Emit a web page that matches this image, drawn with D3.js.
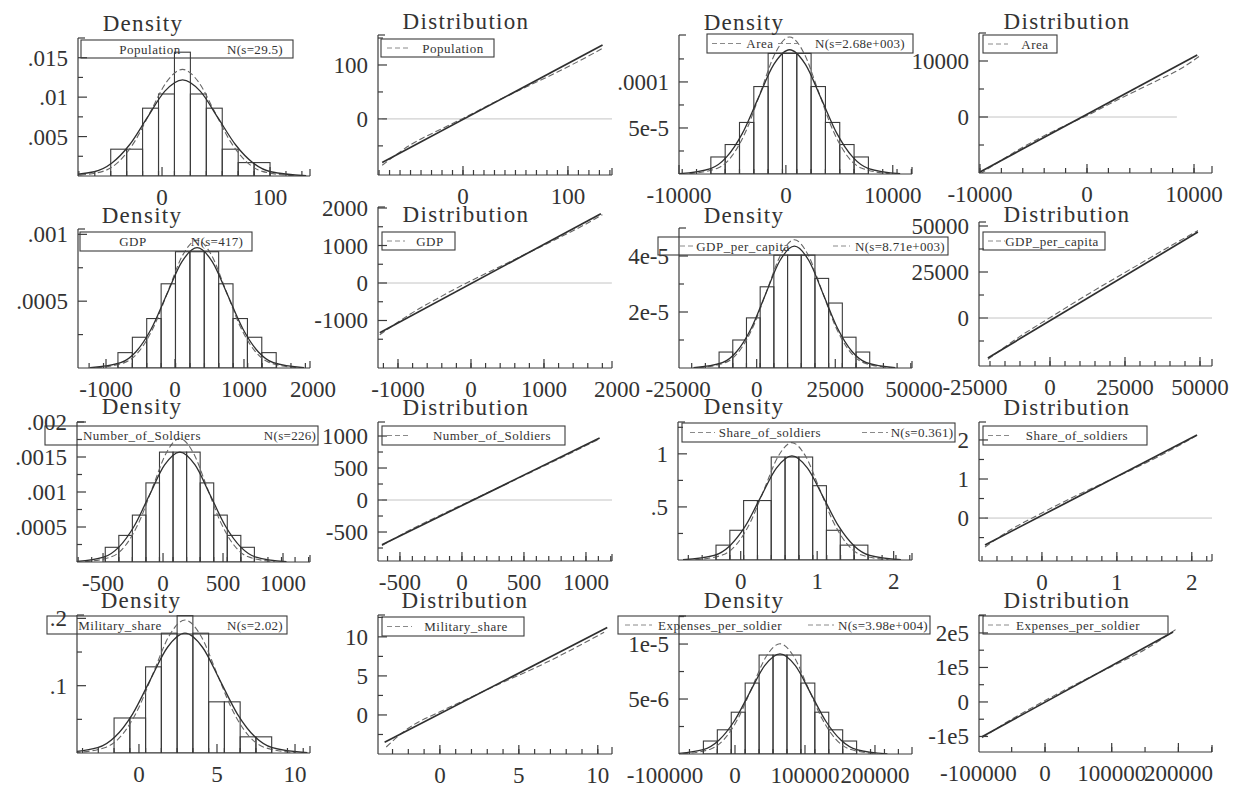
<!DOCTYPE html>
<html>
<head>
<meta charset="utf-8">
<script src="https://cdn.jsdelivr.net/npm/d3@7"></script>
<style>
  body { margin: 0; background: #fff; }
  text { font-family: "Liberation Serif", "Times New Roman", serif; fill: #333; }
</style>
</head>
<body>
<svg id="chart" width="1253" height="788"></svg>
<script>
// ---- variable names and legend labels ----
var varNames = ['Population', 'Area', 'GDP', 'GDP_per_capita', 'Number_of_Soldiers', 'Share_of_soldiers', 'Military_share', 'Expenses_per_soldier']
var sdLabels = ['N(s=29.5)', 'N(s=2.68e+003)', 'N(s=417)', 'N(s=8.71e+003)', 'N(s=226)', 'N(s=0.361)', 'N(s=2.02)', 'N(s=3.98e+004)']

// ---- Population ----
var popBinEdges = [-47.5, -32.75, -18, -3.25, 11.5, 26.25, 41, 55.75, 70.5, 85.25, 100]
var popBinHeights = [0.0034, 0.0034, 0.0086, 0.0104, 0.0157, 0.0104, 0.0086, 0.0034, 0.0017, 0.0017]
var popDashX = [-84.25, -54.75, -40, -25.25, -10.5, 4.25, 19, 33.75, 48.5, 63.25, 78, 92.75, 122.25]
var popDashY = [0.00003, 0.00059, 0.00183, 0.00439, 0.0082, 0.01193, 0.01352, 0.01193, 0.0082, 0.00439, 0.00183, 0.00059, 0.00003]
var popSolidX = [-95.45, -62.75, -46.4, -30.05, -13.7, 2.65, 19, 35.35, 51.7, 68.05, 84.4, 100.75, 133.45]
var popSolidY = [0.00003, 0.00054, 0.00165, 0.00396, 0.0074, 0.01077, 0.0122, 0.01077, 0.0074, 0.00396, 0.00165, 0.00054, 0.00003]
var popQqSolidX = [-77, 133]
var popQqSolidY = [-81, 137]
var popQqDashX = [-77, -50, -20, 0, 30, 60, 90, 120, 133]
var popQqDashY = [-86, -48, -18, 1, 31, 59, 87, 117, 131]

// ---- Area ----
var areaBinEdges = [-7020, -5680, -4340, -3000, -1660, -320, 1020, 2360, 3700, 5040, 6380, 7720]
var areaBinHeights = [1.85e-5, 3.2e-5, 5.6e-5, 9.5e-5, 1.31e-4, 1.31e-4, 1.31e-4, 9.5e-5, 5.6e-5, 3.2e-5, 1.85e-5]
var areaDashX = [-9030, -6350, -5010, -3670, -2330, -990, 350, 1690, 3030, 4370, 5710, 7050, 9730]
var areaDashY = [3.3e-7, 6.54e-6, 2.015e-5, 4.835e-5, 9.03e-5, 1.314e-4, 1.489e-4, 1.314e-4, 9.03e-5, 4.835e-5, 2.015e-5, 6.54e-6, 3.3e-7]
var areaSolidX = [-9993, -7038, -5560, -4083, -2605, -1128, 350, 1828, 3305, 4783, 6260, 7738, 10693]
var areaSolidY = [3.0e-7, 5.93e-6, 1.827e-5, 4.383e-5, 8.19e-5, 1.191e-4, 1.35e-4, 1.191e-4, 8.19e-5, 4.383e-5, 1.827e-5, 5.93e-6, 3.0e-7]
var areaQqSolidX = [-10000, 10300]
var areaQqSolidY = [-9800, 11070]
var areaQqDashX = [-10000, -6000, -3000, 0, 3000, 6000, 9000, 10600]
var areaQqDashY = [-10200, -5400, -2400, 250, 3200, 6000, 8900, 11000]

// ---- GDP ----
var gdpBinEdges = [-827, -618, -410, -201, 7, 216, 424, 633, 841, 1050, 1258, 1467]
var gdpBinHeights = [1.15e-4, 2.3e-4, 3.7e-4, 6.3e-4, 8.7e-4, 8.7e-4, 8.7e-4, 6.3e-4, 3.7e-4, 2.3e-4, 1.15e-4]
var gdpDashX = [-1140, -723, -514, -306, -97, 112, 320, 529, 737, 946, 1154, 1363, 1780]
var gdpDashY = [2.1e-6, 4.2e-5, 1.295e-4, 3.107e-4, 5.804e-4, 8.446e-4, 9.57e-4, 8.446e-4, 5.804e-4, 3.107e-4, 1.295e-4, 4.2e-5, 2.1e-6]
var gdpSolidX = [-1231, -788, -566, -345, -123, 99, 320, 542, 763, 985, 1206, 1428, 1871]
var gdpSolidY = [2.0e-6, 3.95e-5, 1.218e-4, 2.922e-4, 5.459e-4, 7.943e-4, 9.0e-4, 7.943e-4, 5.459e-4, 2.922e-4, 1.218e-4, 3.95e-5, 2.0e-6]
var gdpQqSolidX = [-1250, 1780]
var gdpQqSolidY = [-1330, 1850]
var gdpQqDashX = [-1250, -800, -400, 0, 400, 800, 1200, 1600, 1800]
var gdpQqDashY = [-1380, -790, -350, 60, 440, 820, 1200, 1600, 1820]

// ---- GDP_per_capita ----
var gdppcBinEdges = [-11953, -7598, -3243, 1113, 5468, 9823, 14178, 18533, 22888, 27243, 31598, 35953]
var gdppcBinHeights = [5.7e-6, 1.0e-5, 1.79e-5, 2.9e-5, 4.03e-5, 4.03e-5, 4.03e-5, 3.2e-5, 2.32e-5, 1.1e-5, 5.7e-6]
var gdppcDashX = [-18485, -9775, -5420, -1065, 3290, 7645, 12000, 16355, 20710, 25065, 29420, 33775, 42485]
var gdppcDashY = [1.0e-7, 2.01e-6, 6.2e-6, 1.487e-5, 2.778e-5, 4.042e-5, 4.58e-5, 4.042e-5, 2.778e-5, 1.487e-5, 6.2e-6, 2.01e-6, 1.0e-7]
var gdppcSolidX = [-20095, -10925, -6340, -1755, 2830, 7415, 12000, 16585, 21170, 25755, 30340, 34925, 44095]
var gdppcSolidY = [1.0e-7, 1.91e-6, 5.89e-6, 1.412e-5, 2.638e-5, 3.839e-5, 4.35e-5, 3.839e-5, 2.638e-5, 1.412e-5, 5.89e-6, 1.91e-6, 1.0e-7]
var gdppcQqSolidX = [-20700, 49300]
var gdppcQqSolidY = [-21700, 46700]
var gdppcQqDashX = [-20700, -10000, 0, 10000, 20000, 30000, 40000, 49300]
var gdppcQqDashY = [-22500, -10000, 200, 10300, 20000, 29500, 39000, 47500]

// ---- Number_of_Soldiers ----
var soldBinEdges = [-481.5, -368.5, -255.5, -142.5, -29.5, 83.5, 196.5, 309.5, 422.5, 535.5, 648.5, 761.5]
var soldBinHeights = [2.1e-4, 3.8e-4, 6.7e-4, 1.13e-3, 1.57e-3, 1.57e-3, 1.57e-3, 1.13e-3, 6.7e-4, 3.8e-4, 2.1e-4]
var soldDashX = [-651, -425, -312, -199, -86, 27, 140, 253, 366, 479, 592, 705, 931]
var soldDashY = [3.9e-6, 7.75e-5, 2.388e-4, 5.731e-4, 1.0705e-3, 1.5576e-3, 1.765e-3, 1.5576e-3, 1.0705e-3, 5.731e-4, 2.388e-4, 7.75e-5, 3.9e-6]
var soldSolidX = [-749, -495, -368, -241, -114, 13, 140, 267, 394, 521, 648, 775, 1029]
var soldSolidY = [3.5e-6, 6.9e-5, 2.126e-4, 5.101e-4, 9.528e-4, 1.3864e-3, 1.571e-3, 1.3864e-3, 9.528e-4, 5.101e-4, 2.126e-4, 6.9e-5, 3.5e-6]
var soldQqSolidX = [-645, 1110]
var soldQqSolidY = [-700, 970]
var soldQqDashX = [-645, -400, -200, 0, 200, 400, 600, 800, 1000, 1110]
var soldQqDashY = [-712, -450, -262, -75, 108, 290, 475, 660, 850, 955]

// ---- Share_of_soldiers ----
var shareBinEdges = [-0.323, -0.142, 0.038, 0.219, 0.399, 0.58, 0.76, 0.941, 1.121, 1.302, 1.482, 1.663]
var shareBinHeights = [0.14, 0.28, 0.56, 0.56, 0.97, 0.97, 0.97, 0.70, 0.28, 0.14, 0.14]
var shareDashX = [-0.5935, -0.2325, -0.052, 0.1285, 0.309, 0.4895, 0.67, 0.8505, 1.031, 1.2115, 1.392, 1.5725, 1.9335]
var shareDashY = [0.0024, 0.0485, 0.1495, 0.3588, 0.6702, 0.9752, 1.105, 0.9752, 0.6702, 0.3588, 0.1495, 0.0485, 0.0024]
var shareSolidX = [-0.7545, -0.3475, -0.144, 0.0595, 0.263, 0.4665, 0.67, 0.8735, 1.077, 1.2805, 1.484, 1.6875, 2.0945]
var shareSolidY = [0.0022, 0.043, 0.1326, 0.3182, 0.5944, 0.8649, 0.98, 0.8649, 0.5944, 0.3182, 0.1326, 0.043, 0.0022]
var shareQqSolidX = [-0.76, 2.07]
var shareQqSolidY = [-0.69, 2.13]
var shareQqDashX = [-0.76, -0.4, 0, 0.4, 0.8, 1.2, 1.6, 2.07]
var shareQqDashY = [-0.74, -0.28, 0.13, 0.52, 0.88, 1.24, 1.62, 2.12]

// ---- Military_share ----
var milBinEdges = [-1.595, -0.585, 0.425, 1.435, 2.445, 3.455, 4.465, 5.475, 6.485, 7.495, 8.505]
var milBinHeights = [0.052, 0.052, 0.128, 0.178, 0.204, 0.178, 0.076, 0.076, 0.024, 0.024]
var milDashX = [-4.12, -2.1, -1.09, -0.08, 0.93, 1.94, 2.95, 3.96, 4.97, 5.98, 6.99, 8.0, 10.02]
var milDashY = [0.00043, 0.00867, 0.02672, 0.06413, 0.11978, 0.17429, 0.1975, 0.17429, 0.11978, 0.06413, 0.02672, 0.00867, 0.00043]
var milSolidX = [-4.89, -2.65, -1.53, -0.41, 0.71, 1.83, 2.95, 4.07, 5.19, 6.31, 7.43, 8.55, 10.79]
var milSolidY = [0.00039, 0.00781, 0.02408, 0.0578, 0.10796, 0.15709, 0.178, 0.15709, 0.10796, 0.0578, 0.02408, 0.00781, 0.00039]
var milQqSolidX = [-3.5, 10.6]
var milQqSolidY = [-3.5, 11.2]
var milQqDashX = [-3.4, -2, 0, 2, 4, 6, 8, 10.4]
var milQqDashY = [-4.1, -1.7, 0.4, 2.3, 4.2, 6.0, 8.0, 10.6]

// ---- Expenses_per_soldier ----
var expBinEdges = [-45150, -25250, -5350, 14550, 34450, 54350, 74250, 94150, 114050, 133950, 153850, 173750]
var expBinHeights = [1.18e-6, 2.2e-6, 3.8e-6, 6.45e-6, 9.0e-6, 9.0e-6, 9.0e-6, 6.45e-6, 3.8e-6, 2.2e-6, 1.18e-6]
var expDashX = [-75000, -35200, -15300, 4600, 24500, 44400, 64300, 84200, 104100, 124000, 143900, 163800, 203600]
var expDashY = [2.2e-8, 4.4e-7, 1.356e-6, 3.255e-6, 6.08e-6, 8.846e-6, 1.0024e-5, 8.846e-6, 6.08e-6, 3.255e-6, 1.356e-6, 4.4e-7, 2.2e-8]
var expSolidX = [-89140, -45300, -23380, -1460, 20460, 42380, 64300, 86220, 108140, 130060, 151980, 173900, 217740]
var expSolidY = [2.0e-8, 4.0e-7, 1.231e-6, 2.955e-6, 5.519e-6, 8.031e-6, 9.1e-6, 8.031e-6, 5.519e-6, 2.955e-6, 1.231e-6, 4.0e-7, 2.0e-8]
var expQqSolidX = [-94500, 192000]
var expQqSolidY = [-101000, 203000]
var expQqDashX = [-94500, -50000, 0, 50000, 100000, 150000, 199000]
var expQqDashY = [-104000, -50000, 4000, 55000, 103000, 152000, 214000]

// ---- tick values and labels ----
var popDensTicks = [0.005, 0.01, 0.015], popDensLabels = ['.005', '.01', '.015']
var popTicks = [0, 100], popLabels = ['0', '100']
var areaDensTicks = [5e-5, 1e-4], areaDensLabels = ['5e-5', '.0001']
var areaTicks = [-10000, 0, 10000], areaLabels = ['-10000', '0', '10000']
var gdpDensTicks = [0.0005, 0.001], gdpDensLabels = ['.0005', '.001']
var gdpTicks = [-1000, 0, 1000, 2000], gdpLabels = ['-1000', '0', '1000', '2000']
var gdppcDensTicks = [2e-5, 4e-5], gdppcDensLabels = ['2e-5', '4e-5']
var gdppcTicks = [-25000, 0, 25000, 50000], gdppcLabels = ['-25000', '0', '25000', '50000']
var soldDensTicks = [0.0005, 0.001, 0.0015, 0.002], soldDensLabels = ['.0005', '.001', '.0015', '.002']
var soldTicks = [-500, 0, 500, 1000], soldLabels = ['-500', '0', '500', '1000']
var shareDensTicks = [0.5, 1], shareDensLabels = ['.5', '1']
var shareTicks = [0, 1, 2], shareLabels = ['0', '1', '2']
var milDensTicks = [0.1, 0.2], milDensLabels = ['.1', '.2']
var milTicks = [0, 5, 10], milLabels = ['0', '5', '10']
var expDensTicks = [5e-6, 1e-5], expDensLabels = ['5e-6', '1e-5']
var expTicks = [-100000, 0, 100000, 200000], expLabels = ['-100000', '0', '100000', '200000']
var expQqYTicks = [-100000, 0, 100000, 200000], expQqYLabels = ['-1e5', '0', '1e5', '2e5']

var INK = '#3b3b3b'
var FONT = 23
var svg = d3.select('#chart')
var clipCount = 0

// panel layout: box = [left, top, right, bottom] of the axes in px
var panels = [
  // row 1
  { type: 'density', v: 0, box: [78, 38, 310, 176], titleX: 143, titleY: 31,
    xDomain: [-77.8, 137], yDomain: [0, 0.0175],
    yTicks: popDensTicks, yLabels: popDensLabels, xTicks: popTicks, xLabels: popLabels,
    edges: popBinEdges, heights: popBinHeights, dash: [popDashX, popDashY], solid: [popSolidX, popSolidY],
    legend: { box: [81, 40, 293, 58], name: 150, sd: 255 } },
  { type: 'qq', v: 0, box: [378, 35, 612, 175], titleX: 466, titleY: 29,
    xDomain: [-81, 142], yDomain: [-104, 155.6], xMinorStep: 10,
    yTicks: [0, 100], yLabels: popLabels, xTicks: popTicks, xLabels: popLabels,
    solid: [popQqSolidX, popQqSolidY], dash: [popQqDashX, popQqDashY], zero: [-77, 142],
    legend: { box: [381, 39, 494, 57], sample: [387, 408], name: 453 } },
  { type: 'density', v: 1, box: [679, 35, 912, 174], titleX: 744, titleY: 30,
    xDomain: [-10000, 11800], yDomain: [0, 1.51e-4],
    yTicks: areaDensTicks, yLabels: areaDensLabels, xTicks: areaTicks, xLabels: areaLabels,
    edges: areaBinEdges, heights: areaBinHeights, dash: [areaDashX, areaDashY], solid: [areaSolidX, areaSolidY],
    legend: { box: [707, 34, 913, 53], sample: [712, 742], name: 760, sample2: [778, 800], sd: 860 } },
  { type: 'qq', v: 1, box: [979, 33, 1212, 173], titleX: 1067, titleY: 29,
    xDomain: [-10090, 11680], yDomain: [-10000, 15000], xMinorStep: 2000,
    yTicks: [0, 10000], yLabels: ['0', '10000'], xTicks: areaTicks, xLabels: areaLabels,
    solid: [areaQqSolidX, areaQqSolidY], dash: [areaQqDashX, areaQqDashY], zero: [-10000, 8400],
    legend: { box: [983, 35, 1057, 53], sample: [988, 1008], name: 1035 } },
  // row 2
  { type: 'density', v: 2, box: [78, 229, 310, 368], titleX: 142, titleY: 223,
    xDomain: [-1406, 1957], yDomain: [0, 0.00104],
    yTicks: gdpDensTicks, yLabels: gdpDensLabels, xTicks: gdpTicks, xLabels: gdpLabels,
    edges: gdpBinEdges, heights: gdpBinHeights, dash: [gdpDashX, gdpDashY], solid: [gdpSolidX, gdpSolidY],
    legend: { box: [80, 232, 252, 251], name: 133, sd: 217 } },
  { type: 'qq', v: 2, box: [378, 207, 612, 368], titleX: 466, titleY: 222,
    xDomain: [-1274, 1932], yDomain: [-2267, 2027], xMinorStep: 200,
    yTicks: gdpTicks, yLabels: gdpLabels, xTicks: gdpTicks, xLabels: gdpLabels,
    solid: [gdpQqSolidX, gdpQqSolidY], dash: [gdpQqDashX, gdpQqDashY], zero: [-1250, 1930],
    legend: { box: [382, 232, 455, 250], sample: [387, 405], name: 430 } },
  { type: 'density', v: 3, box: [679, 228, 912, 368], titleX: 744, titleY: 223,
    xDomain: [-24700, 49400], yDomain: [0, 5.0e-5],
    yTicks: gdppcDensTicks, yLabels: gdppcDensLabels, xTicks: gdppcTicks, xLabels: gdppcLabels,
    edges: gdppcBinEdges, heights: gdppcBinHeights, dash: [gdppcDashX, gdppcDashY], solid: [gdppcSolidX, gdppcSolidY],
    legend: { box: [658, 237, 948, 255], sample: [680, 695], name: 743, sample2: [833, 850], sd: 900 } },
  { type: 'qq', v: 3, box: [979, 222, 1212, 366], titleX: 1067, titleY: 222,
    xDomain: [-23667, 54000], yDomain: [-26087, 52174], xMinorStep: 5000,
    yTicks: [0, 25000, 50000], yLabels: ['0', '25000', '50000'], xTicks: gdppcTicks, xLabels: gdppcLabels,
    solid: [gdppcQqSolidX, gdppcQqSolidY], dash: [gdppcQqDashX, gdppcQqDashY], zero: [-20700, 54000],
    legend: { box: [983, 232, 1105, 250], sample: [988, 1005], name: 1052 } },
  // row 3
  { type: 'density', v: 4, box: [77, 422, 310, 562], titleX: 142, titleY: 414,
    xDomain: [-717, 1225], yDomain: [0, 0.002],
    yTicks: soldDensTicks, yLabels: soldDensLabels, xTicks: soldTicks, xLabels: soldLabels,
    edges: soldBinEdges, heights: soldBinHeights, dash: [soldDashX, soldDashY], solid: [soldSolidX, soldSolidY],
    legend: { box: [45, 426, 318, 445], name: 142, sd: 290 } },
  { type: 'qq', v: 4, box: [378, 422, 612, 561], titleX: 466, titleY: 415,
    xDomain: [-677, 1210], yDomain: [-953, 1219], xMinorStep: 100,
    yTicks: soldTicks, yLabels: soldLabels, xTicks: soldTicks, xLabels: soldLabels,
    solid: [soldQqSolidX, soldQqSolidY], dash: [soldQqDashX, soldQqDashY], zero: [-645, 1210],
    legend: { box: [382, 426, 565, 445], sample: [387, 410], name: 492 } },
  { type: 'density', v: 5, box: [678, 422, 912, 560], titleX: 744, titleY: 414,
    xDomain: [-0.82, 2.24], yDomain: [0, 1.3],
    yTicks: shareDensTicks, yLabels: shareDensLabels, xTicks: shareTicks, xLabels: shareLabels,
    edges: shareBinEdges, heights: shareBinHeights, dash: [shareDashX, shareDashY], solid: [shareSolidX, shareSolidY],
    legend: { box: [682, 423, 955, 442], sample: [690, 715], name: 770, sample2: [862, 888], sd: 922 } },
  { type: 'qq', v: 5, box: [979, 422, 1212, 561], titleX: 1067, titleY: 415,
    xDomain: [-0.84, 2.27], yDomain: [-1.10, 2.46], xMinorStep: 0.2,
    yTicks: shareTicks, yLabels: shareLabels, xTicks: shareTicks, xLabels: shareLabels,
    solid: [shareQqSolidX, shareQqSolidY], dash: [shareQqDashX, shareQqDashY], zero: [-0.76, 2.27],
    legend: { box: [983, 426, 1147, 445], sample: [988, 1010], name: 1077 } },
  // row 4
  { type: 'density', v: 6, box: [77, 615, 310, 753], titleX: 141, titleY: 608,
    xDomain: [-3.97, 10.96], yDomain: [0, 0.205],
    yTicks: milDensTicks, yLabels: milDensLabels, xTicks: milTicks, xLabels: milLabels,
    edges: milBinEdges, heights: milBinHeights, dash: [milDashX, milDashY], solid: [milSolidX, milSolidY],
    legend: { box: [47, 616, 287, 634], name: 120, sd: 255 } },
  { type: 'qq', v: 6, box: [378, 615, 612, 754], titleX: 465, titleY: 608,
    xDomain: [-3.92, 10.9], yDomain: [-5, 12.8], xMinorStep: 1,
    yTicks: milTicks, yLabels: milLabels, xTicks: milTicks, xLabels: milLabels,
    solid: [milQqSolidX, milQqSolidY], dash: [milQqDashX, milQqDashY], zero: null,
    legend: { box: [382, 617, 524, 636], sample: [387, 412], name: 466 } },
  { type: 'density', v: 7, box: [679, 616, 912, 754], titleX: 744, titleY: 608,
    xDomain: [-80000, 252900], yDomain: [0, 1.255e-5],
    yTicks: expDensTicks, yLabels: expDensLabels, xTicks: expTicks, xLabels: expLabels,
    edges: expBinEdges, heights: expBinHeights, dash: [expDashX, expDashY], solid: [expSolidX, expSolidY],
    legend: { box: [618, 616, 930, 634], sample: [625, 652], name: 720, sample2: [808, 834], sd: 883 } },
  { type: 'qq', v: 7, box: [979, 615, 1212, 752], titleX: 1067, titleY: 608,
    xDomain: [-99000, 250400], yDomain: [-145000, 252000], xMinorStep: 50000,
    yTicks: expQqYTicks, yLabels: expQqYLabels, xTicks: expTicks, xLabels: expLabels,
    solid: [expQqSolidX, expQqSolidY], dash: [expQqDashX, expQqDashY], zero: null,
    legend: { box: [983, 616, 1168, 634], sample: [988, 1010], name: 1078 } }
]

function drawAxes(g, p, x, y) {
  var L = p.box[0], T = p.box[1], R = p.box[2], B = p.box[3]
  var ax = g.append('g').attr('stroke', INK).attr('stroke-width', 1.2)
  ax.append('line').attr('x1', L).attr('y1', T).attr('x2', L).attr('y2', B)
  ax.append('line').attr('x1', L).attr('y1', B).attr('x2', R).attr('y2', B)
  // small end ticks
  ax.append('line').attr('x1', L).attr('y1', T).attr('x2', L + 7).attr('y2', T)
  ax.append('line').attr('x1', R).attr('y1', B).attr('x2', R).attr('y2', B - 7)

  // y ticks: major labelled, minor half way between
  var step = p.yTicks.length > 1 ? p.yTicks[1] - p.yTicks[0] : p.yTicks[0]
  var yMinor = []
  for (var v = p.yTicks[0] - step / 2; v < p.yDomain[1]; v += step) {
    if (v > p.yDomain[0]) yMinor.push(v)
  }
  yMinor.forEach(function(v) {
    ax.append('line').attr('x1', L).attr('x2', L + 5).attr('y1', y(v)).attr('y2', y(v))
  })
  p.yTicks.forEach(function(v, i) {
    var yy = y(v)
    if (yy >= T - 1 && yy <= B) ax.append('line').attr('x1', L).attr('x2', L + 9).attr('y1', yy).attr('y2', yy)
    g.append('text').attr('x', L - 10).attr('y', yy + 8)
      .attr('text-anchor', 'end').attr('font-size', FONT)
      .text(p.yLabels[i])
  })

  // x minor ticks: bin edges for density, regular steps for distribution
  var xMinor = []
  if (p.type === 'density') {
    var w = p.edges[1] - p.edges[0]
    for (var e = p.edges[0]; e > p.xDomain[0]; e -= w) xMinor.push(e)
    for (var e2 = p.edges[0] + w; e2 < p.xDomain[1]; e2 += w) xMinor.push(e2)
  } else {
    var s = p.xMinorStep
    for (var m = Math.ceil(p.xDomain[0] / s) * s; m < p.xDomain[1]; m += s) xMinor.push(m)
  }
  xMinor.forEach(function(v) {
    ax.append('line').attr('x1', x(v)).attr('x2', x(v)).attr('y1', B).attr('y2', B - 5)
  })
  p.xTicks.forEach(function(v, i) {
    var xx = x(v)
    if (xx >= L && xx <= R) ax.append('line').attr('x1', xx).attr('x2', xx).attr('y1', B).attr('y2', B - 9)
    g.append('text').attr('x', xx).attr('y', B + 29)
      .attr('text-anchor', 'middle').attr('font-size', FONT)
      .text(p.xLabels[i])
  })
}

function drawLegend(g, p) {
  var lg = p.legend
  var b = lg.box
  var mid = (b[1] + b[3]) / 2
  g.append('rect').attr('x', b[0]).attr('y', b[1])
    .attr('width', b[2] - b[0]).attr('height', b[3] - b[1])
    .attr('fill', 'none').attr('stroke', INK).attr('stroke-width', 1.1)
  ;[lg.sample, lg.sample2].forEach(function(sm) {
    if (!sm) return
    g.append('line').attr('x1', sm[0]).attr('x2', sm[1]).attr('y1', mid).attr('y2', mid)
      .attr('stroke', '#8a8a8a').attr('stroke-width', 1).attr('stroke-dasharray', '5,3')
  })
  g.append('text').attr('x', lg.name).attr('y', mid + 4.5)
    .attr('text-anchor', 'middle').attr('font-size', 13).attr('letter-spacing', 0.5)
    .text(varNames[p.v])
  if (lg.sd) {
    g.append('text').attr('x', lg.sd).attr('y', mid + 4.5)
      .attr('text-anchor', 'middle').attr('font-size', 13).attr('letter-spacing', 0.3)
      .text(sdLabels[p.v])
  }
}

function drawPanel(p) {
  var L = p.box[0], T = p.box[1], R = p.box[2], B = p.box[3]
  var x = d3.scaleLinear().domain(p.xDomain).range([L, R])
  var y = d3.scaleLinear().domain(p.yDomain).range([B, T])
  var g = svg.append('g')

  var clipId = 'clip' + (clipCount++)
  svg.append('clipPath').attr('id', clipId)
    .append('rect').attr('x', L).attr('y', T - 4).attr('width', R - L).attr('height', B - T + 4)
  var plot = g.append('g').attr('clip-path', 'url(#' + clipId + ')')

  var line = d3.line()
    .x(function(d) { return x(d[0]) })
    .y(function(d) { return y(d[1]) })
    .curve(d3.curveMonotoneX)

  if (p.type === 'density') {
    plot.selectAll('rect')
      .data(p.heights)
      .join('rect')
      .attr('x', function(d, i) { return x(p.edges[i]) })
      .attr('width', function(d, i) { return x(p.edges[i + 1]) - x(p.edges[i]) })
      .attr('y', function(d) { return y(d) })
      .attr('height', function(d) { return B - y(d) })
      .attr('fill', 'none').attr('stroke', INK).attr('stroke-width', 1.1)
  } else if (p.zero) {
    plot.append('line')
      .attr('x1', x(p.zero[0])).attr('x2', x(p.zero[1])).attr('y1', y(0)).attr('y2', y(0))
      .attr('stroke', '#c4c4c4').attr('stroke-width', 1)
  }

  drawLegend(g, p)

  plot.append('path').datum(d3.zip(p.dash[0], p.dash[1]))
    .attr('d', line).attr('fill', 'none')
    .attr('stroke', '#666').attr('stroke-width', 1.1).attr('stroke-dasharray', '6,3')
  plot.append('path').datum(d3.zip(p.solid[0], p.solid[1]))
    .attr('d', line).attr('fill', 'none')
    .attr('stroke', '#2f2f2f').attr('stroke-width', p.type === 'qq' ? 1.7 : 1.3)

  drawAxes(g, p, x, y)

  g.append('text').attr('x', p.titleX).attr('y', p.titleY)
    .attr('text-anchor', 'middle').attr('font-size', FONT).attr('letter-spacing', 1.3)
    .text(p.type === 'density' ? 'Density' : 'Distribution')
}

panels.forEach(drawPanel)
</script>
</body>
</html>
